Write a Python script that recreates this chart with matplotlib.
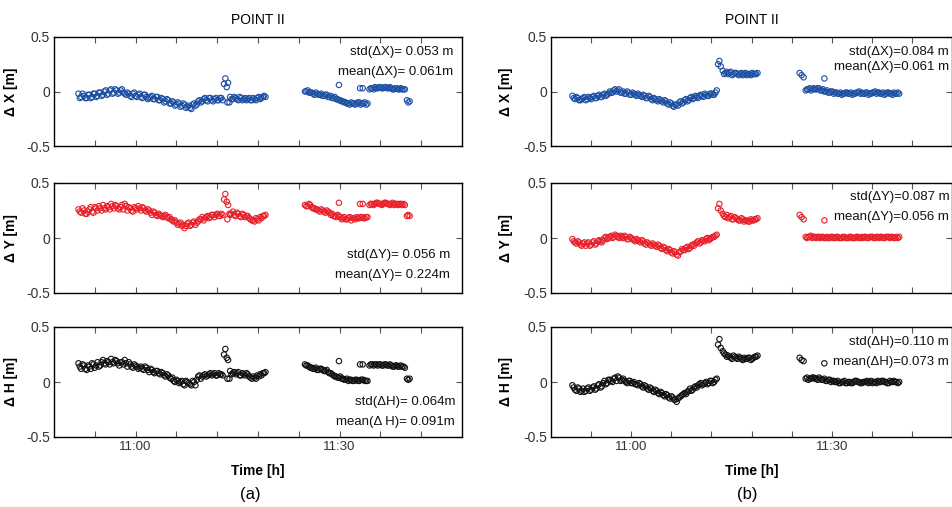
import matplotlib
matplotlib.use('Agg')
import matplotlib.pyplot as plt

plt.rcParams['font.family'] = ['Liberation Sans', 'DejaVu Sans']

# time in minutes relative to 11:00, left column (a)
t_a = [
    -8.4, -8.0, -7.6, -7.2, -6.8, -6.4, -6.0, -5.6, -5.2, -4.8, -4.4, -4.0, -3.6, -3.2,
    -2.8, -2.4, -2.0, -1.6, -1.2, -0.8, -0.4, 0.0, 0.4, 0.8, 1.2, 1.6, 2.0, 2.4,
    2.8, 3.2, 3.6, 4.0, 4.4, 4.8, 5.2, 5.6, 6.0, 6.4, 6.8, 7.2, 7.6, 8.0, 8.4, 8.8,
    9.2, 9.6, 10.0, 10.4, 10.8, 11.2, 11.6, 12.0, 12.4, 12.8,
    13.0, 13.2, 13.4, 13.6, 13.5, 13.8,
    13.9, 14.3, 14.7, 15.1, 15.5, 15.9, 16.3, 16.7, 17.1, 17.5, 17.9, 18.3, 18.7, 19.1,
    24.9, 25.3, 25.7, 26.1, 26.5, 26.9, 27.3, 27.7, 28.1, 28.5, 28.9, 29.3, 29.7, 30.1,
    30.5, 30.9, 31.3, 31.7, 32.1, 32.5, 32.9, 33.3, 33.7, 34.1,
    29.9, 33.0, 33.4,
    34.4, 34.8, 35.2, 35.6, 36.0, 36.4, 36.8, 37.2, 37.6, 38.0, 38.4, 38.8, 39.2, 39.6,
    39.9, 40.1, 40.3,
]
dx_a = [
    -0.02, -0.05, -0.04, -0.06, -0.03, -0.05, -0.02, -0.04, -0.01, -0.03, 0.01, -0.02, 0.02, -0.01,
    0.01, -0.01, 0.02, -0.02, -0.01, -0.04, -0.02, -0.04, -0.03, -0.05, -0.03, -0.05, -0.06, -0.04,
    -0.07, -0.05, -0.08, -0.07, -0.09, -0.08, -0.11, -0.10, -0.12, -0.11, -0.13, -0.12, -0.14, -0.15, -0.12, -0.13,
    -0.09, -0.10, -0.07, -0.08, -0.06, -0.08, -0.07, -0.08, -0.06, -0.08,
    0.07, 0.12, 0.04, 0.08, -0.10, -0.10,
    -0.05, -0.07, -0.06, -0.08, -0.06, -0.07, -0.08, -0.06, -0.08, -0.07, -0.06, -0.07, -0.05, -0.05,
    0.00, 0.01, -0.01, -0.02, -0.01, -0.03, -0.02, -0.04, -0.03, -0.05, -0.06, -0.05, -0.07, -0.08,
    -0.09, -0.10, -0.11, -0.10, -0.11, -0.11, -0.10, -0.11, -0.10, -0.11,
    0.06, 0.03, 0.03,
    0.02, 0.03, 0.04, 0.03, 0.04, 0.03, 0.04, 0.03, 0.03, 0.02, 0.03, 0.02, 0.02, 0.02,
    -0.08, -0.10, -0.09,
]
dy_a = [
    0.26, 0.23, 0.25, 0.22, 0.26, 0.24, 0.28, 0.25, 0.27, 0.30, 0.26, 0.28, 0.31, 0.27,
    0.29, 0.26, 0.30, 0.31, 0.25, 0.27, 0.24, 0.27, 0.29, 0.25, 0.27, 0.24, 0.25, 0.21,
    0.23, 0.20, 0.21, 0.19, 0.21, 0.18, 0.17, 0.15, 0.14, 0.13, 0.11, 0.09, 0.13, 0.11, 0.14, 0.12,
    0.15, 0.17, 0.16, 0.19, 0.18, 0.21, 0.19, 0.22, 0.20, 0.21,
    0.35, 0.40, 0.33, 0.30, 0.17, 0.22,
    0.21, 0.24, 0.20, 0.22, 0.19, 0.21, 0.20, 0.18, 0.16, 0.15, 0.17, 0.19, 0.20, 0.21,
    0.30, 0.29, 0.30, 0.27, 0.26, 0.25, 0.26, 0.24, 0.25, 0.23, 0.22, 0.20, 0.21, 0.19,
    0.18, 0.17, 0.18, 0.16, 0.18, 0.19, 0.18, 0.19, 0.18, 0.19,
    0.32, 0.31, 0.31,
    0.30, 0.31, 0.31, 0.32, 0.31, 0.31, 0.32, 0.31, 0.31, 0.30, 0.31, 0.31, 0.30, 0.30,
    0.20, 0.21, 0.20,
]
dh_a = [
    0.17, 0.12, 0.15, 0.11, 0.14, 0.17, 0.13, 0.18, 0.15, 0.20, 0.16, 0.18, 0.21, 0.17,
    0.19, 0.15, 0.18, 0.20, 0.14, 0.16, 0.13, 0.15, 0.12, 0.14, 0.11, 0.13, 0.09, 0.11,
    0.08, 0.10, 0.07, 0.08, 0.05, 0.06, 0.03, 0.01, 0.02, -0.01, 0.01, -0.03, 0.00, -0.02, 0.01, -0.03,
    0.05, 0.03, 0.06, 0.05, 0.07, 0.06, 0.08, 0.06, 0.07, 0.06,
    0.25, 0.30, 0.22, 0.20, 0.03, 0.03,
    0.10, 0.08, 0.07, 0.09, 0.06, 0.07, 0.08, 0.05, 0.03, 0.04, 0.06, 0.07, 0.08, 0.09,
    0.16, 0.15, 0.13, 0.12, 0.13, 0.11, 0.12, 0.10, 0.11, 0.08, 0.07, 0.05, 0.04, 0.05,
    0.03, 0.02, 0.01, 0.02, 0.01, 0.02, 0.01, 0.02, 0.01, 0.01,
    0.19, 0.16, 0.16,
    0.15, 0.16, 0.16, 0.15, 0.16, 0.15, 0.16, 0.15, 0.15, 0.14, 0.15, 0.14, 0.14, 0.13,
    0.03, 0.02, 0.03,
]

# intermediate epochs, left column
t_a2 = [
    -8.2, -7.8, -7.4, -7.0, -6.6, -6.2, -5.8, -5.4, -5.0, -4.6,
    -4.2, -3.8, -3.4, -3.0, -2.6, -2.2, -1.8, -1.4, -1.0, -0.6,
    -0.2, 0.2, 0.6, 1.0, 1.4, 1.8, 2.2, 2.6, 3.0, 3.4,
    3.8, 4.2, 4.6, 5.0, 5.4, 5.8, 6.2, 6.6, 7.0, 7.4,
    7.8, 8.2, 8.6, 9.0, 9.4, 9.8, 10.2, 10.6, 11.0, 11.4,
    11.8, 12.2, 12.6,
    14.1, 14.5, 14.9, 15.3, 15.7, 16.1, 16.5, 16.9, 17.3, 17.7, 18.1, 18.5, 18.9,
    25.1, 25.5, 25.9, 26.3, 26.7, 27.1, 27.5, 27.9, 28.3, 28.7,
    29.1, 29.5, 29.9, 30.3, 30.7, 31.1, 31.5, 31.9, 32.3, 32.7,
    33.1, 33.5, 33.9,
    34.6, 35.0, 35.4, 35.8, 36.2, 36.6, 37.0, 37.4, 37.8, 38.2, 38.6, 39.0, 39.4,
]
dx_a2 = [
    -0.06, -0.02, -0.06, -0.03, -0.06, -0.02, -0.05, -0.01, -0.04, 0.00,
    -0.03, 0.01, -0.02, 0.02, -0.02, 0.01, -0.01, -0.03, -0.02, -0.05,
    -0.01, -0.05, -0.02, -0.06, -0.03, -0.07, -0.05, -0.07, -0.05, -0.08,
    -0.06, -0.10, -0.07, -0.11, -0.09, -0.13, -0.10, -0.14, -0.11, -0.15,
    -0.13, -0.16, -0.11, -0.12, -0.08, -0.09, -0.06, -0.09, -0.06, -0.09,
    -0.06, -0.08, -0.06,
    -0.07, -0.05, -0.07, -0.05, -0.08, -0.06, -0.07, -0.08, -0.06, -0.08, -0.05, -0.06, -0.04,
    0.00, -0.01, -0.01, -0.03, -0.02, -0.03, -0.04, -0.03, -0.05, -0.04,
    -0.06, -0.07, -0.08, -0.09, -0.10, -0.11, -0.12, -0.11, -0.12, -0.10,
    -0.12, -0.11, -0.12,
    0.03, 0.02, 0.03, 0.04, 0.03, 0.04, 0.03, 0.04, 0.02, 0.03, 0.02, 0.03, 0.02,
]
dy_a2 = [
    0.24, 0.27, 0.22, 0.24, 0.28, 0.23, 0.27, 0.29, 0.25, 0.27,
    0.29, 0.26, 0.29, 0.30, 0.27, 0.28, 0.26, 0.29, 0.28, 0.25,
    0.28, 0.26, 0.27, 0.28, 0.25, 0.26, 0.23, 0.24, 0.21, 0.22,
    0.20, 0.20, 0.19, 0.19, 0.16, 0.16, 0.12, 0.14, 0.12, 0.11,
    0.14, 0.12, 0.15, 0.14, 0.17, 0.19, 0.18, 0.20, 0.19, 0.21,
    0.21, 0.20, 0.22,
    0.22, 0.21, 0.23, 0.20, 0.22, 0.19, 0.20, 0.17, 0.16, 0.18, 0.16, 0.18, 0.20,
    0.29, 0.31, 0.28, 0.27, 0.26, 0.24, 0.25, 0.23, 0.24, 0.21,
    0.20, 0.19, 0.20, 0.17, 0.19, 0.17, 0.19, 0.18, 0.17, 0.18,
    0.19, 0.18, 0.19,
    0.31, 0.30, 0.32, 0.31, 0.30, 0.32, 0.31, 0.30, 0.32, 0.31, 0.30, 0.31, 0.31,
]
dh_a2 = [
    0.14, 0.16, 0.12, 0.15, 0.12, 0.16, 0.15, 0.14, 0.18, 0.17,
    0.19, 0.16, 0.18, 0.20, 0.17, 0.18, 0.16, 0.17, 0.18, 0.14,
    0.16, 0.14, 0.13, 0.12, 0.14, 0.11, 0.12, 0.09, 0.10, 0.08,
    0.09, 0.06, 0.07, 0.04, 0.04, 0.00, 0.01, 0.00, -0.02, 0.01,
    -0.01, -0.03, 0.00, 0.02, 0.06, 0.05, 0.07, 0.06, 0.08, 0.07,
    0.06, 0.08, 0.07,
    0.07, 0.09, 0.08, 0.06, 0.08, 0.06, 0.07, 0.04, 0.05, 0.03, 0.05, 0.06, 0.08,
    0.15, 0.14, 0.13, 0.12, 0.11, 0.12, 0.11, 0.10, 0.09, 0.08,
    0.06, 0.05, 0.04, 0.03, 0.02, 0.03, 0.02, 0.01, 0.02, 0.01,
    0.02, 0.02, 0.01,
    0.16, 0.15, 0.16, 0.16, 0.15, 0.16, 0.15, 0.16, 0.14, 0.15, 0.14, 0.15, 0.14,
]

# right column (b)
t_b = [
    -8.8, -8.4, -8.0, -7.6, -7.2, -6.8, -6.4, -6.0, -5.6, -5.2, -4.8, -4.4, -4.0, -3.6,
    -3.2, -2.8, -2.4, -2.0, -1.6, -1.2, -0.8, -0.4, 0.0, 0.4, 0.8, 1.2, 1.6, 2.0,
    2.4, 2.8, 3.2, 3.6, 4.0, 4.4, 4.8, 5.2, 5.6, 6.0, 6.4, 6.8, 7.2, 7.6, 8.0, 8.4,
    8.8, 9.2, 9.6, 10.0, 10.4, 10.8, 11.2, 11.6, 12.0, 12.4, 12.8,
    13.0, 13.2, 13.4,
    13.7, 14.1, 14.5, 14.9, 15.3, 15.7, 16.1, 16.5, 16.9, 17.3, 17.7, 18.1, 18.5, 18.9,
    25.2, 25.5, 25.8,
    28.9,
    26.1, 26.5, 26.9, 27.3, 27.7, 28.1, 28.5, 28.9, 29.3, 29.7, 30.1, 30.5, 30.9, 31.3,
    31.7, 32.1, 32.5, 32.9, 33.3, 33.7, 34.1, 34.5, 34.9, 35.3, 35.7, 36.1, 36.5, 36.9,
    37.3, 37.7, 38.1, 38.5, 38.9, 39.3, 39.7, 40.1,
]
dx_b = [
    -0.04, -0.07, -0.06, -0.08, -0.06, -0.08, -0.05, -0.07, -0.04, -0.06, -0.03, -0.05, -0.02, -0.03,
    0.00, -0.01, 0.02, 0.01, -0.01, 0.00, -0.02, -0.01, -0.03, -0.02, -0.04, -0.03, -0.05, -0.04,
    -0.06, -0.05, -0.08, -0.07, -0.09, -0.08, -0.10, -0.09, -0.12, -0.11, -0.14, -0.12, -0.10, -0.11, -0.08, -0.09,
    -0.06, -0.07, -0.04, -0.06, -0.03, -0.05, -0.03, -0.04, -0.02, -0.03, 0.01,
    0.25, 0.28, 0.23,
    0.19, 0.17, 0.16, 0.18, 0.16, 0.17, 0.15, 0.17, 0.16, 0.15, 0.16, 0.17, 0.16, 0.17,
    0.17, 0.15, 0.13,
    0.12,
    0.01, 0.02, 0.01, 0.03, 0.02, 0.03, 0.01, 0.00, 0.01, -0.01, 0.00, -0.01, -0.02, -0.01,
    -0.02, -0.01, -0.02, -0.01, -0.02, -0.01, 0.00, -0.01, -0.02, -0.01, -0.02, -0.01, 0.00, -0.01,
    -0.02, -0.01, -0.02, -0.01, -0.02, -0.01, -0.02, -0.02,
]
dy_b = [
    -0.01, -0.04, -0.03, -0.06, -0.05, -0.07, -0.04, -0.06, -0.03, -0.05, -0.02, -0.04, 0.00, -0.01,
    0.01, 0.00, 0.03, 0.01, 0.02, 0.00, 0.01, -0.01, 0.00, -0.02, -0.01, -0.03, -0.02, -0.05,
    -0.04, -0.06, -0.05, -0.07, -0.06, -0.09, -0.08, -0.11, -0.10, -0.13, -0.12, -0.15, -0.13, -0.10, -0.11, -0.08,
    -0.09, -0.06, -0.05, -0.03, -0.04, -0.02, -0.01, -0.02, 0.00, 0.01, 0.03,
    0.27, 0.31, 0.25,
    0.22, 0.19, 0.18, 0.20, 0.17, 0.18, 0.16, 0.18, 0.15, 0.16, 0.15, 0.16, 0.17, 0.18,
    0.21, 0.19, 0.17,
    0.16,
    0.01, 0.01, 0.02, 0.01, 0.00, 0.01, 0.01, 0.00, 0.01, 0.00, 0.01, 0.00, 0.01, 0.00,
    0.01, 0.00, 0.00, 0.01, 0.00, 0.01, 0.00, 0.01, 0.01, 0.00, 0.01, 0.01, 0.00, 0.01,
    0.01, 0.00, 0.01, 0.01, 0.01, 0.00, 0.01, 0.01,
]
dh_b = [
    -0.03, -0.07, -0.05, -0.09, -0.06, -0.08, -0.05, -0.07, -0.04, -0.06, -0.02, -0.04, 0.01, -0.01,
    0.02, 0.00, 0.04, 0.05, 0.01, 0.03, 0.00, 0.01, -0.01, 0.00, -0.02, -0.01, -0.04, -0.03,
    -0.06, -0.05, -0.08, -0.07, -0.10, -0.09, -0.12, -0.11, -0.14, -0.13, -0.16, -0.18, -0.14, -0.12, -0.10, -0.09,
    -0.06, -0.07, -0.04, -0.03, -0.01, -0.02, 0.00, -0.01, 0.01, 0.00, 0.03,
    0.34, 0.39, 0.31,
    0.28, 0.25, 0.24, 0.22, 0.24, 0.22, 0.23, 0.21, 0.22, 0.21, 0.22, 0.21, 0.23, 0.24,
    0.22, 0.20, 0.19,
    0.17,
    0.03, 0.02, 0.03, 0.04, 0.03, 0.04, 0.02, 0.03, 0.01, 0.02, 0.01, 0.00, 0.01, -0.01,
    0.00, -0.01, 0.00, -0.01, 0.00, 0.01, 0.00, -0.01, 0.00, 0.01, 0.00, -0.01, 0.00, 0.01,
    0.00, 0.01, 0.00, -0.01, 0.00, 0.01, 0.00, 0.00,
]

# intermediate epochs, right column
t_b2 = [
    -8.6, -8.2, -7.8, -7.4, -7.0, -6.6, -6.2, -5.8, -5.4, -5.0,
    -4.6, -4.2, -3.8, -3.4, -3.0, -2.6, -2.2, -1.8, -1.4, -1.0,
    -0.6, -0.2, 0.2, 0.6, 1.0, 1.4, 1.8, 2.2, 2.6, 3.0,
    3.4, 3.8, 4.2, 4.6, 5.0, 5.4, 5.8, 6.2, 6.6, 7.0,
    7.4, 7.8, 8.2, 8.6, 9.0, 9.4, 9.8, 10.2, 10.6, 11.0,
    11.4, 11.8, 12.2, 12.6,
    13.9, 14.3, 14.7, 15.1, 15.5, 15.9, 16.3, 16.7, 17.1, 17.5, 17.9, 18.3, 18.7,
    26.3, 26.7, 27.1, 27.5, 27.9, 28.3, 28.7, 29.1, 29.5, 29.9,
    30.3, 30.7, 31.1, 31.5, 31.9, 32.3, 32.7, 33.1, 33.5, 33.9,
    34.3, 34.7, 35.1, 35.5, 35.9, 36.3, 36.7, 37.1, 37.5, 37.9,
    38.3, 38.7, 39.1, 39.5, 39.9,
]
dx_b2 = [
    -0.06, -0.05, -0.08, -0.07, -0.05, -0.07, -0.06, -0.05, -0.06, -0.04,
    -0.05, -0.03, -0.04, -0.02, -0.01, 0.01, 0.00, 0.02, -0.01, -0.02,
    0.00, -0.03, -0.01, -0.03, -0.02, -0.04, -0.03, -0.06, -0.04, -0.07,
    -0.06, -0.08, -0.07, -0.09, -0.08, -0.11, -0.10, -0.13, -0.12, -0.13,
    -0.09, -0.10, -0.07, -0.08, -0.05, -0.06, -0.05, -0.04, -0.04, -0.02,
    -0.04, -0.02, -0.03, -0.01,
    0.16, 0.18, 0.17, 0.15, 0.17, 0.16, 0.16, 0.15, 0.17, 0.16, 0.15, 0.16, 0.16,
    0.02, 0.03, 0.02, 0.02, 0.03, 0.01, 0.02, 0.00, -0.01, 0.00,
    -0.02, -0.01, -0.02, -0.03, -0.02, -0.01, -0.02, -0.03, -0.02, -0.01,
    -0.02, -0.02, -0.01, -0.03, -0.02, -0.01, -0.02, -0.01, -0.02, -0.03,
    -0.01, -0.02, -0.03, -0.02, -0.01,
]
dy_b2 = [
    -0.03, -0.05, -0.04, -0.07, -0.04, -0.05, -0.07, -0.04, -0.06, -0.03,
    -0.03, -0.02, 0.01, 0.00, 0.02, 0.01, 0.02, 0.00, 0.01, 0.02,
    -0.01, 0.01, -0.01, -0.03, -0.02, -0.04, -0.03, -0.06, -0.05, -0.07,
    -0.06, -0.08, -0.07, -0.10, -0.09, -0.12, -0.11, -0.14, -0.13, -0.16,
    -0.12, -0.11, -0.09, -0.10, -0.07, -0.07, -0.04, -0.05, -0.02, -0.03,
    0.00, -0.01, 0.01, 0.02,
    0.20, 0.21, 0.19, 0.17, 0.19, 0.17, 0.16, 0.17, 0.16, 0.15, 0.17, 0.16, 0.17,
    0.00, 0.01, 0.00, 0.01, 0.01, 0.00, 0.01, 0.00, 0.00, 0.01,
    0.00, 0.01, 0.00, 0.00, 0.01, 0.00, 0.01, 0.00, 0.00, 0.01,
    0.00, 0.00, 0.01, 0.00, 0.01, 0.00, 0.01, 0.00, 0.01, 0.00,
    0.01, 0.00, 0.01, 0.00, 0.00,
]
dh_b2 = [
    -0.05, -0.08, -0.06, -0.08, -0.09, -0.06, -0.08, -0.05, -0.07, -0.03,
    -0.05, -0.01, -0.02, 0.02, 0.01, 0.03, 0.01, 0.04, 0.02, 0.01,
    -0.01, 0.01, -0.01, -0.02, -0.03, -0.02, -0.05, -0.04, -0.07, -0.06,
    -0.09, -0.08, -0.11, -0.10, -0.13, -0.12, -0.15, -0.14, -0.16, -0.15,
    -0.13, -0.11, -0.11, -0.08, -0.08, -0.05, -0.05, -0.02, -0.03, -0.01,
    -0.02, 0.01, -0.01, 0.02,
    0.26, 0.23, 0.23, 0.21, 0.23, 0.21, 0.22, 0.20, 0.21, 0.22, 0.20, 0.22, 0.23,
    0.04, 0.03, 0.04, 0.03, 0.02, 0.03, 0.02, 0.01, 0.02, 0.00,
    0.01, 0.00, -0.01, 0.00, 0.01, -0.01, 0.00, -0.01, 0.01, 0.00,
    -0.01, 0.00, 0.00, -0.01, 0.01, 0.00, -0.01, 0.00, 0.01, 0.00,
    -0.01, 0.01, 0.00, 0.00, -0.01,
]

ylabels = ['Δ X [m]', 'Δ Y [m]', 'Δ H [m]']
colors = ['#1d4fa3', '#e8202a', '#111111']
stats_a = [
    ('std(ΔX)= 0.053 m', 'mean(ΔX)= 0.061m'),
    ('std(ΔY)= 0.056 m', 'mean(ΔY)= 0.224m'),
    ('std(ΔH)= 0.064m', 'mean(Δ H)= 0.091m'),
]
stats_b = [
    ('std(ΔX)=0.084 m', 'mean(ΔX)=0.061 m'),
    ('std(ΔY)=0.087 m', 'mean(ΔY)=0.056 m'),
    ('std(ΔH)=0.110 m', 'mean(ΔH)=0.073 m'),
]
time_ticks = [-6, 0, 6, 12, 18, 24, 30, 36, 42]
time_labels = ['', '11:00', '', '', '', '', '11:30', '', '']

W, H = 953, 507
fig = plt.figure(figsize=(W / 100, H / 100), dpi=100)

rows_px = [(37, 146), (183, 293), (327, 437)]
cols_px = [(54, 462), (551, 952)]
# stat text positions (axes fraction): x, y_std, y_mean
pos_a = [(0.978, 0.862, 0.679), (0.97, 0.345, 0.164), (0.983, 0.318, 0.136)]
pos_b = [(0.993, 0.862, 0.725), (0.993, 0.873, 0.69), (0.993, 0.864, 0.68)]

columns = [
    (t_a + t_a2, [dx_a + dx_a2, dy_a + dy_a2, dh_a + dh_a2], stats_a, pos_a, -0.088),
    (t_b + t_b2, [dx_b + dx_b2, dy_b + dy_b2, dh_b + dh_b2], stats_b, pos_b, -0.095),
]

for ci, (t, series, stats, pos, ylab_x) in enumerate(columns):
    x0, x1 = cols_px[ci]
    for ri in range(3):
        top, bot = rows_px[ri]
        ax = fig.add_axes([x0 / W, 1 - bot / H, (x1 - x0) / W, (bot - top) / H])
        ax.scatter(t, series[ri], s=15, facecolors='none', edgecolors=colors[ri],
                   linewidths=0.8)
        ax.set_xlim(-12, 48)
        ax.set_ylim(-0.5, 0.5)
        ax.set_yticks([-0.5, 0, 0.5])
        ax.set_yticklabels(['-0.5', '0', '0.5'])
        ax.set_xticks(time_ticks)
        ax.set_xticklabels(time_labels if ri == 2 else [''] * len(time_ticks))
        ax.tick_params(direction='in', top=True, right=True, length=4, width=0.8,
                       color='#555555', labelsize=9.5, labelcolor='#333333', pad=3)
        ax.tick_params(axis='y', labelsize=10)
        for sp in ax.spines.values():
            sp.set_linewidth(1.0)
        ax.set_ylabel(ylabels[ri], fontsize=10, fontweight='bold')
        ax.yaxis.set_label_coords(ylab_x, 0.5)
        tx, ys, ym = pos[ri]
        ax.text(tx, ys, stats[ri][0], transform=ax.transAxes, ha='right', va='center',
                fontsize=9.5, color='#111111')
        ax.text(tx, ym, stats[ri][1], transform=ax.transAxes, ha='right', va='center',
                fontsize=9.5, color='#111111')

    cx = (x0 + x1) / 2 / W
    fig.text(cx, 1 - 20 / H, 'POINT II', ha='center', va='center', fontsize=10)
    fig.text(cx, 1 - 471 / H, 'Time [h]', ha='center', va='center', fontsize=10,
             fontweight='bold')

fig.text(250 / W, 1 - 495 / H, '(a)', ha='center', va='center', fontsize=12)
fig.text(747 / W, 1 - 495 / H, '(b)', ha='center', va='center', fontsize=12)

fig.savefig('out.png', dpi=100)
plt.close(fig)
